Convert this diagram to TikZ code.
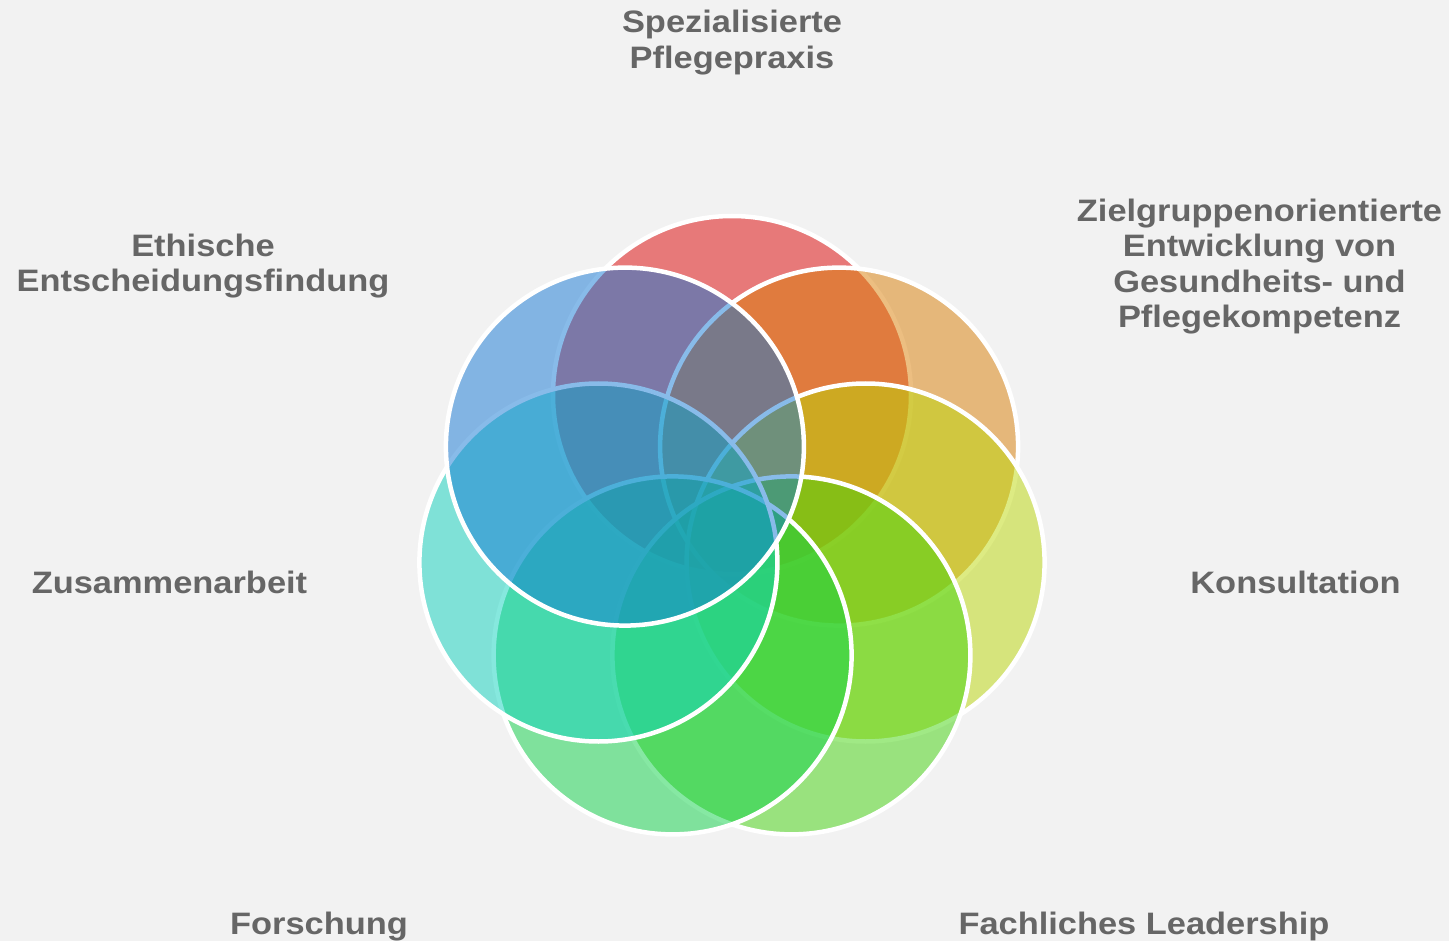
\documentclass[tikz,border=0pt]{standalone}
\usepackage{fontspec}
\newfontfamily\labelfont[FakeStretch=1.11,BoldFont={Liberation Sans Bold}]{Liberation Sans}

\definecolor{bgcol}{HTML}{F2F2F2}
\definecolor{txtcol}{HTML}{666666}
\definecolor{cred}{RGB}{222,2,2}
\definecolor{corange}{RGB}{218,126,4}
\definecolor{cyellow}{RGB}{188,216,8}
\definecolor{clime}{RGB}{66,212,12}
\definecolor{cgreen}{RGB}{14,210,72}
\definecolor{cteal}{RGB}{14,210,190}
\definecolor{cblue}{RGB}{19,120,213}

\tikzset{
  petal/.style={circle, inner sep=0pt, outer sep=0pt, minimum size=358pt,
    fill=#1, fill opacity=0.5, draw=white, draw opacity=1, line width=4.5pt},
  % for multi-line labels the base anchor sits on the last line
  lbl/.style={font=\labelfont\bfseries\fontsize{31}{35.5}\selectfont,
    text=txtcol, align=center, anchor=base, inner sep=0pt}
}

\begin{document}
\begin{tikzpicture}[x=1pt,y=-1pt]
  \useasboundingbox (0,0) rectangle (1449,941);
  \fill[bgcol] (0,0) rectangle (1449,941);

  % seven overlapping circles on a heptagon around (732,532)
  \node[petal=cred]    (p1) at (732.0,395.0) {};
  \node[petal=corange] (p2) at (839.1,446.6) {};
  \node[petal=cyellow] (p3) at (865.6,562.5) {};
  \node[petal=clime]   (p4) at (791.4,655.4) {};
  \node[petal=cgreen]  (p5) at (672.6,655.4) {};
  \node[petal=cteal]   (p6) at (598.4,562.5) {};
  \node[petal=cblue]   (p7) at (624.9,446.6) {};

  % labels
  \node[lbl] (t1) at (732,68.3) {Spezialisierte\\Pflegepraxis};
  \node[lbl] (t2) at (1259.5,327.5) {Zielgruppenorientierte\\Entwicklung von\\Gesundheits- und\\Pflegekompetenz};
  \node[lbl] (t3) at (1295.5,593.3) {Konsultation};
  \node[lbl] (t4) at (1144,934.3) {Fachliches Leadership};
  \node[lbl] (t5) at (319,934.3) {Forschung};
  \node[lbl] (t6) at (169.5,593.3) {Zusammenarbeit};
  \node[lbl] (t7) at (203,291.7) {Ethische\\Entscheidungsfindung};
\end{tikzpicture}
\end{document}
